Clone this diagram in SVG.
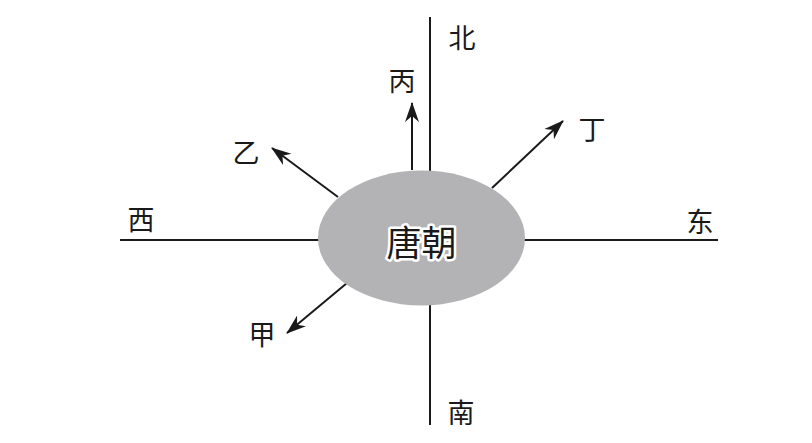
<svg xmlns="http://www.w3.org/2000/svg" width="812" height="443" viewBox="0 0 812 443">
<style>
.ln{stroke:#1a1a1a;stroke-width:2;fill:none}
.ar{stroke:#1a1a1a;stroke-width:2;fill:none;marker-end:url(#ah)}
.lb{font-family:"Noto Sans CJK SC",sans-serif;font-size:27px;fill:#1a1a1a;text-anchor:middle;dominant-baseline:central}
.ct{font-family:"Noto Sans CJK SC",sans-serif;font-size:35px;fill:#1a1a1a;stroke:#fff;stroke-width:5px;paint-order:stroke;stroke-linejoin:round;text-anchor:middle;dominant-baseline:central}
</style>
<defs>
<marker id="ah" markerWidth="22" markerHeight="16" refX="19" refY="8" orient="auto" markerUnits="userSpaceOnUse">
<path d="M0,1 L20,8 L0,15 L6,8 Z" fill="#1a1a1a"/>
</marker>
</defs>
<rect width="812" height="443" fill="#fff"/>
<g id="connectors">
<line class="ln" x1="430" y1="17" x2="430" y2="172"/>
<line class="ln" x1="430" y1="304" x2="430" y2="425"/>
<line class="ln" x1="120" y1="240" x2="319" y2="240"/>
<line class="ln" x1="524" y1="240" x2="718" y2="240"/>
<line class="ar" x1="412" y1="170" x2="412" y2="103"/>
<line class="ar" x1="338" y1="197" x2="272" y2="148"/>
<line class="ar" x1="492" y1="188" x2="563" y2="121"/>
<line class="ar" x1="347" y1="283" x2="287" y2="333"/>
</g>
<g id="center">
<ellipse cx="421.5" cy="238" rx="103.5" ry="67.5" fill="#b3b3b5"/>
<text class="ct" x="421.5" y="240">唐朝</text>
</g>
<g id="north"><text class="lb" x="462" y="36">北</text></g>
<g id="south"><text class="lb" x="461" y="411">南</text></g>
<g id="west"><text class="lb" x="141" y="218">西</text></g>
<g id="east"><text class="lb" x="700" y="220">东</text></g>
<g id="bing"><text class="lb" x="402" y="79">丙</text></g>
<g id="yi"><text class="lb" x="246" y="151">乙</text></g>
<g id="ding"><text class="lb" x="592" y="128">丁</text></g>
<g id="jia"><text class="lb" x="262" y="333">甲</text></g>
</svg>
